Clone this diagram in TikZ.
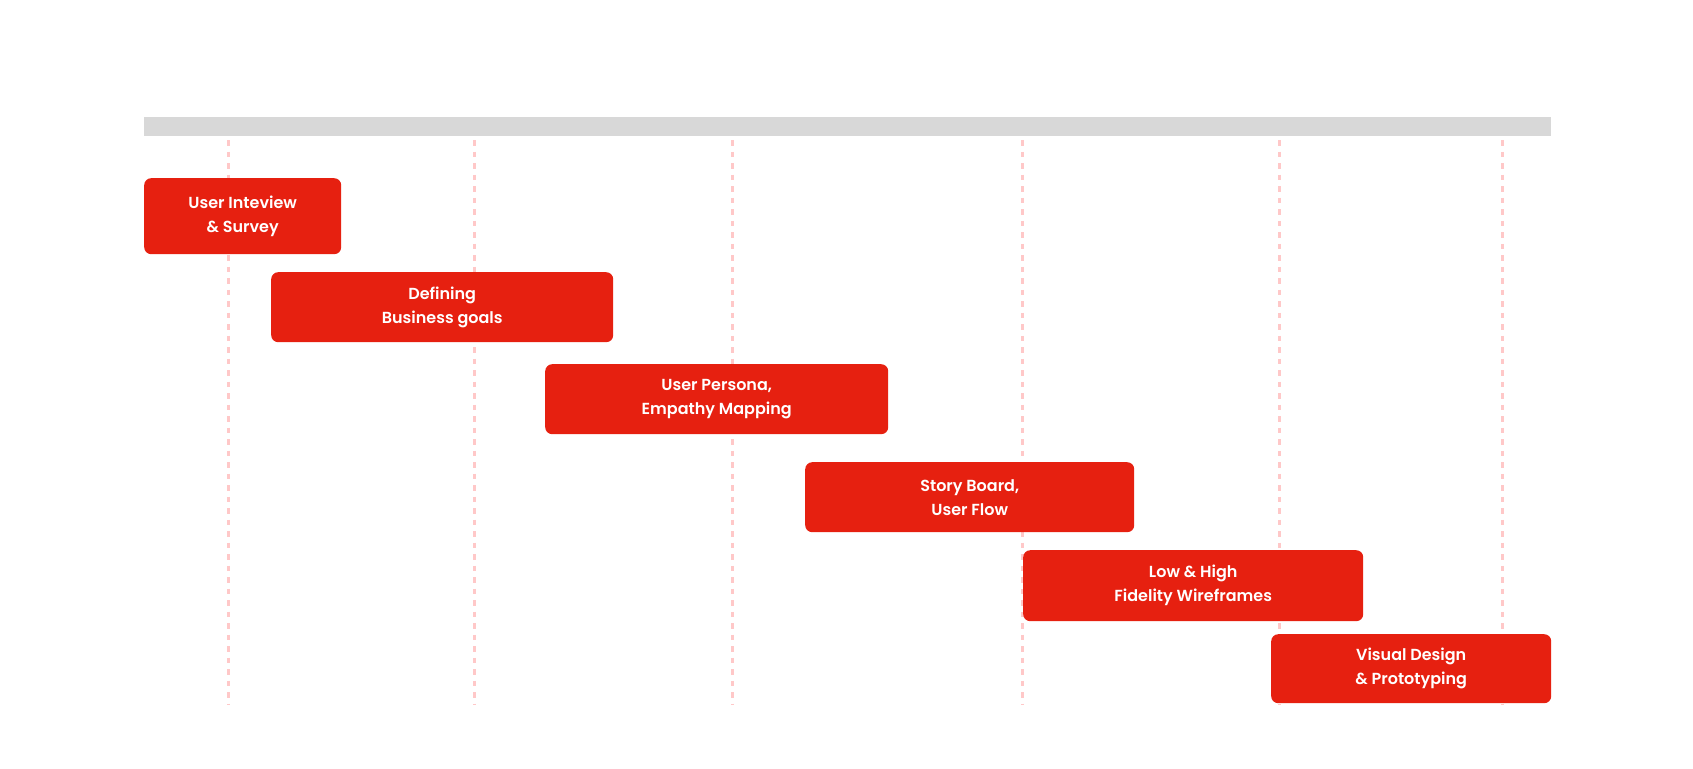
\documentclass[tikz,border=0pt]{standalone}
\usepackage{fontspec}
\setmainfont{Poppins SemiBold}
\definecolor{barred}{RGB}{230,32,16}
\definecolor{bargray}{RGB}{216,216,216}
\definecolor{gridpink}{RGB}{255,200,200}
\begin{document}
\begin{tikzpicture}[x=1pt,y=-1pt,
  taskbox/.style={fill=barred, rounded corners=7pt, anchor=north west, inner sep=0pt,
    text=white, align=center, font=\fontsize{16}{24}\selectfont},
  gridline/.style={draw=gridpink, line width=3pt, dash pattern=on 5.5pt off 6pt}]
\useasboundingbox (0,0) rectangle (1693,768);
% grid lines
\foreach \gx [count=\i] in {228,474,732,1022,1279,1502} {
  \coordinate (gt\i) at (\gx,140);
  \coordinate (gb\i) at (\gx,704);
  \draw[gridline] (gt\i) -- (gb\i);
}
% header bar
\fill[bargray] (144,117) rectangle (1551,136);
% tasks
\node[taskbox, minimum width=197pt, minimum height=76pt] (t1) at (144,178) {User Inteview\\\& Survey};
\node[taskbox, minimum width=342pt, minimum height=70pt] (t2) at (271,272) {Defining\\Business goals};
\node[taskbox, minimum width=343pt, minimum height=70pt] (t3) at (545,364) {User Persona,\\Empathy Mapping};
\node[taskbox, minimum width=329pt, minimum height=70pt] (t4) at (805,462) {Story Board,\\User Flow};
\node[taskbox, minimum width=340pt, minimum height=71pt] (t5) at (1023,550) {Low \& High\\Fidelity Wireframes};
\node[taskbox, minimum width=280pt, minimum height=69pt] (t6) at (1271,634) {Visual Design\\\& Prototyping};
\end{tikzpicture}
\end{document}
